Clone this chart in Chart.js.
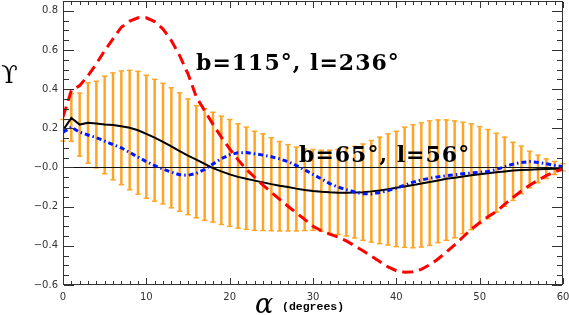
<!DOCTYPE html>
<html><head><meta charset="utf-8">
<script src="https://cdn.jsdelivr.net/npm/chart.js@4"></script>
<style>html,body{margin:0;padding:0;background:#fff;}#wrap{width:569px;height:315px;}</style>
</head><body><div id="wrap"><canvas id="c" width="569" height="315"></canvas></div>
<script>
// ---- data ----
const alpha = [0,1,2,3,4,5,6,7,8,9,10,11,12,13,14,15,16,17,18,19,20,21,22,23,24,25,26,27,28,29,30,
  31,32,33,34,35,36,37,38,39,40,41,42,43,44,45,46,47,48,49,50,51,52,53,54,55,56,57,58,59,60];
const errTop = [0.245,0.378,0.38,0.432,0.44,0.466,0.483,0.493,0.496,0.491,0.471,0.45,0.43,0.407,0.381,0.35,0.316,0.30,0.282,0.262,0.245,
  0.223,0.206,0.185,0.172,0.152,0.133,0.117,0.104,0.095,0.092,0.088,0.088,0.092,0.10,0.108,0.12,0.138,0.155,0.172,0.185,
  0.206,0.218,0.228,0.238,0.243,0.243,0.238,0.231,0.223,0.209,0.194,0.175,0.155,0.129,0.109,0.083,0.063,0.044,0.031,0.019];
const errBottom = [0.135,0.133,0.058,0.022,-0.002,-0.032,-0.063,-0.088,-0.114,-0.136,-0.157,-0.172,-0.186,-0.206,-0.224,-0.241,-0.257,-0.27,-0.279,-0.291,-0.301,
  -0.31,-0.316,-0.321,-0.322,-0.323,-0.324,-0.324,-0.324,-0.322,-0.321,-0.326,-0.335,-0.342,-0.35,-0.36,-0.372,-0.381,-0.389,-0.396,-0.404,
  -0.408,-0.41,-0.406,-0.398,-0.384,-0.372,-0.359,-0.338,-0.318,-0.287,-0.262,-0.228,-0.199,-0.168,-0.134,-0.104,-0.078,-0.057,-0.036,-0.017];
const curveBlack = [0.19,0.253,0.219,0.228,0.224,0.22,0.217,0.211,0.203,0.19,0.172,0.152,0.131,0.108,0.083,0.06,0.04,0.018,-0.003,-0.02,-0.035,
  -0.048,-0.058,-0.067,-0.076,-0.085,-0.093,-0.1,-0.108,-0.115,-0.12,-0.124,-0.127,-0.129,-0.129,-0.128,-0.126,-0.122,-0.117,-0.111,-0.104,
  -0.097,-0.09,-0.082,-0.074,-0.066,-0.058,-0.052,-0.046,-0.04,-0.034,-0.029,-0.024,-0.02,-0.016,-0.013,-0.011,-0.009,-0.008,-0.007,-0.006];
const curveRed = [0.257,0.393,0.418,0.469,0.529,0.597,0.657,0.716,0.747,0.764,0.764,0.745,0.707,0.648,0.571,0.478,0.36,0.29,0.22,0.155,0.095,
  0.04,-0.01,-0.05,-0.09,-0.127,-0.163,-0.198,-0.232,-0.265,-0.3,-0.323,-0.34,-0.355,-0.375,-0.4,-0.425,-0.452,-0.48,-0.508,-0.527,
  -0.535,-0.533,-0.52,-0.497,-0.467,-0.432,-0.395,-0.355,-0.315,-0.282,-0.252,-0.225,-0.188,-0.153,-0.12,-0.091,-0.065,-0.042,-0.022,-0.007];
const curveBlue = [0.18,0.206,0.18,0.166,0.152,0.135,0.117,0.1,0.077,0.053,0.03,0.01,-0.008,-0.024,-0.037,-0.04,-0.03,-0.01,0.018,0.045,0.065,
  0.075,0.076,0.07,0.063,0.055,0.044,0.03,0.01,-0.012,-0.035,-0.058,-0.082,-0.1,-0.113,-0.125,-0.134,-0.135,-0.128,-0.118,-0.105,
  -0.09,-0.075,-0.064,-0.055,-0.048,-0.042,-0.037,-0.032,-0.028,-0.024,-0.02,-0.01,0.004,0.017,0.026,0.03,0.026,0.019,0.011,0.004];
const xTickValues = [0,10,20,30,40,50,60];
const xTickLabels = ['0','10','20','30','40','50','60'];
const yTickValues = [-0.6,-0.4,-0.2,0,0.2,0.4,0.6,0.8];
const yTickLabels = ['\u22120.6','\u22120.4','\u22120.2','\u22120.0','0.2','0.4','0.6','0.8'];
const annotationTexts = ['b=115\u00b0, l=236\u00b0','b=65\u00b0, l=56\u00b0'];

const ORANGE = '#FFA424';
const pts = arr => alpha.map((a,i)=>({x:a, y:arr[i]}));

const deco = {
  id:'deco',
  afterDatasetDraw(chart, args){
    if (args.index !== 0) return;
    const {ctx, chartArea:a, scales:{x,y}} = chart;
    ctx.save();
    ctx.setLineDash([]);
    ctx.fillStyle = ORANGE;
    alpha.forEach((v,i)=>{
      const px = x.getPixelForValue(v);
      [errTop[i], errBottom[i]].forEach(val=>{
        const py = y.getPixelForValue(val);
        ctx.fillRect(px-2.7, py-0.7, 5.4, 1.4);
      });
    });
    // zero line
    const y0 = Math.round(y.getPixelForValue(0));
    ctx.fillStyle = '#111';
    ctx.fillRect(a.left, y0, a.right-a.left, 1);
    ctx.restore();
  },
  afterDraw(chart){
    const {ctx, chartArea:a, scales:{x,y}} = chart;
    ctx.save();
    ctx.setLineDash([]);
    ctx.globalAlpha = 1;
    ctx.fillStyle = '#333';
    const L = Math.round(a.left), R = Math.round(a.right)-1, T = Math.round(a.top), B = Math.round(a.bottom)-1;
    ctx.fillRect(L, T, R-L+1, 1);
    ctx.fillRect(L, B, R-L+1, 1);
    ctx.fillRect(L, T, 1, B-T+1);
    ctx.fillRect(R, T, 1, B-T+1);
    // x ticks
    for (let v = 0; v <= 60; v += 1) {
      const px = Math.round(x.getPixelForValue(v));
      const len = (v % 10 === 0) ? 6 : 3;
      ctx.fillRect(px, B-len, 1, len);
      ctx.fillRect(px, T+1, 1, len);
    }
    // y ticks
    for (let k = -12; k <= 17; k++) {
      const py = Math.round(y.getPixelForValue(k*0.05));
      const len = (k % 4 === 0) ? 10 : 5;
      ctx.fillRect(L+1, py, len, 1);
      ctx.fillRect(R-len, py, len, 1);
    }
    // axis titles
    ctx.fillStyle = '#000';
    ctx.font = '24px "DejaVu Serif"';
    ctx.textAlign = 'center'; ctx.textBaseline = 'alphabetic';
    ctx.fillText('\u03d2', 9.5, 83);
    ctx.font = 'italic 27px "DejaVu Serif"';
    ctx.textAlign = 'left';
    ctx.fillText('\u03b1', 255, 313);
    ctx.font = 'bold 11.5px "Liberation Mono"';
    ctx.fillText('(degrees)', 282, 310);
    // annotations
    ctx.font = 'bold 22px "DejaVu Serif"';
    ctx.letterSpacing = '1px';
    ctx.fillText(annotationTexts[0], x.getPixelForValue(15.96), y.getPixelForValue(0.50));
    ctx.fillText(annotationTexts[1], x.getPixelForValue(28.32), y.getPixelForValue(0.028));
    ctx.restore();
  }
};

new Chart(document.getElementById('c'), {
  type: 'bar',
  data: { datasets: [
    { type:'bar', data: alpha.map((a,i)=>({x:a, y:[errBottom[i], errTop[i]]})), backgroundColor: ORANGE,
      barThickness: 1.8, borderWidth: 0, order: 10 },
    { type:'line', data: pts(curveBlack), borderColor:'#000', borderWidth:2, pointRadius:0, tension:0, order:3 },
    { type:'line', data: pts(curveBlue), borderColor:'#0018ff', borderWidth:3, borderDash:[5,3,1.5,3], pointRadius:0, tension:0, order:2 },
    { type:'line', data: pts(curveRed), borderColor:'#ff0000', borderWidth:3, borderDash:[11,6], pointRadius:0, tension:0, order:1 }
  ]},
  options: {
    responsive:false, animation:false, devicePixelRatio:1,
    layout:{padding:{top:1,right:6,left:0,bottom:0}},
    plugins:{legend:{display:false}, tooltip:{enabled:false}},
    scales:{
      x:{ type:'linear', min:0, max:60, offset:false,
        grid:{display:false, drawTicks:false}, border:{display:false},
        afterBuildTicks: s => { s.ticks = xTickValues.map(v=>({value:v})); },
        ticks:{ font:{family:'DejaVu Sans', size:10}, color:'#333', padding:6, maxRotation:0, autoSkip:false,
          callback:(v,i)=>xTickLabels[i] },
        afterFit: s => { s.height = 30; s.paddingLeft = 0; s.paddingRight = 0; } },
      y:{ type:'linear', min:-0.6, max:0.85,
        grid:{display:false, drawTicks:false}, border:{display:false},
        afterBuildTicks: s => { s.ticks = yTickValues.map(v=>({value:v})); },
        ticks:{ font:{family:'DejaVu Sans', size:10}, color:'#333', padding:5, autoSkip:false,
          callback:(v,i)=>yTickLabels[i] },
        afterFit: s => { s.width = 63; s.paddingTop = 0; s.paddingBottom = 0; } }
    }
  },
  plugins:[deco]
});
</script></body></html>
